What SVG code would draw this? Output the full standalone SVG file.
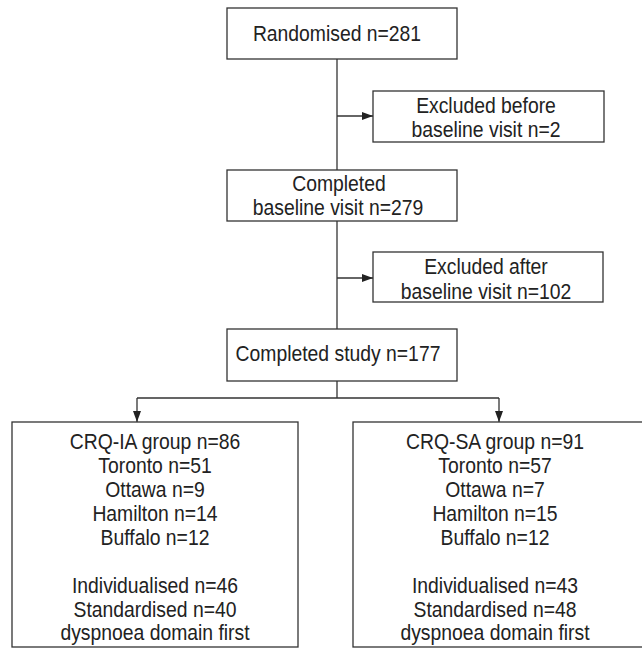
<svg xmlns="http://www.w3.org/2000/svg" width="642" height="649" viewBox="0 0 642 649">
<defs>
<style>
rect{fill:#fff;stroke:#333;stroke-width:1.3}
text{font-family:"Liberation Sans",Arial,sans-serif;font-size:21.5px;fill:#222;text-anchor:middle}
.c{fill:none;stroke:#333;stroke-width:1.3}
</style>
<marker id="ah" viewBox="0 0 11 8" refX="11" refY="4" markerWidth="11" markerHeight="8" markerUnits="userSpaceOnUse" orient="auto">
<path d="M0,0 L11,4 L0,8 Z" fill="#222"/>
</marker>
</defs>
<rect width="642" height="649" style="stroke:none"/>
<g id="connectors">
<path class="c" d="M337,59 V170"/>
<path class="c" d="M337,116 H373" marker-end="url(#ah)"/>
<path class="c" d="M337,221 V329"/>
<path class="c" d="M337,278 H373" marker-end="url(#ah)"/>
<path class="c" d="M337,381 V398 M137,398 H499"/>
<path class="c" d="M137,398 V422" marker-end="url(#ah)"/>
<path class="c" d="M499,398 V422" marker-end="url(#ah)"/>
</g>
<g id="randomised">
<rect x="227" y="8" width="230" height="51"/>
<text transform="translate(337,41) scale(0.9,1)">Randomised n=281</text>
</g>
<g id="excluded-before">
<rect x="373" y="91" width="231" height="51"/>
<text transform="translate(486,113) scale(0.9,1)">Excluded before</text>
<text transform="translate(486,137) scale(0.9,1)">baseline visit n=2</text>
</g>
<g id="completed-baseline">
<rect x="227" y="170" width="230" height="51"/>
<text transform="translate(339,191) scale(0.9,1)">Completed</text>
<text transform="translate(338,215) scale(0.9,1)">baseline visit n=279</text>
</g>
<g id="excluded-after">
<rect x="373" y="252" width="230" height="50"/>
<text transform="translate(486,274) scale(0.9,1)">Excluded after</text>
<text transform="translate(486,299) scale(0.9,1)">baseline visit n=102</text>
</g>
<g id="completed-study">
<rect x="227" y="329" width="230" height="52"/>
<text transform="translate(338,361) scale(0.9,1)">Completed study n=177</text>
</g>
<g id="crq-ia">
<rect x="12" y="422" width="286" height="225"/>
<text transform="translate(155,449) scale(0.9,1)">CRQ-IA group n=86</text>
<text transform="translate(155,473) scale(0.9,1)">Toronto n=51</text>
<text transform="translate(155,497) scale(0.9,1)">Ottawa n=9</text>
<text transform="translate(155,521) scale(0.9,1)">Hamilton n=14</text>
<text transform="translate(155,545) scale(0.9,1)">Buffalo n=12</text>
<text transform="translate(155,593) scale(0.9,1)">Individualised n=46</text>
<text transform="translate(155,617) scale(0.9,1)">Standardised n=40</text>
<text transform="translate(155,640) scale(0.9,1)">dyspnoea domain first</text>
</g>
<g id="crq-sa">
<rect x="353" y="422" width="292" height="225"/>
<text transform="translate(495,449) scale(0.9,1)">CRQ-SA group n=91</text>
<text transform="translate(495,473) scale(0.9,1)">Toronto n=57</text>
<text transform="translate(495,497) scale(0.9,1)">Ottawa n=7</text>
<text transform="translate(495,521) scale(0.9,1)">Hamilton n=15</text>
<text transform="translate(495,545) scale(0.9,1)">Buffalo n=12</text>
<text transform="translate(495,593) scale(0.9,1)">Individualised n=43</text>
<text transform="translate(495,617) scale(0.9,1)">Standardised n=48</text>
<text transform="translate(495,640) scale(0.9,1)">dyspnoea domain first</text>
</g>
</svg>
